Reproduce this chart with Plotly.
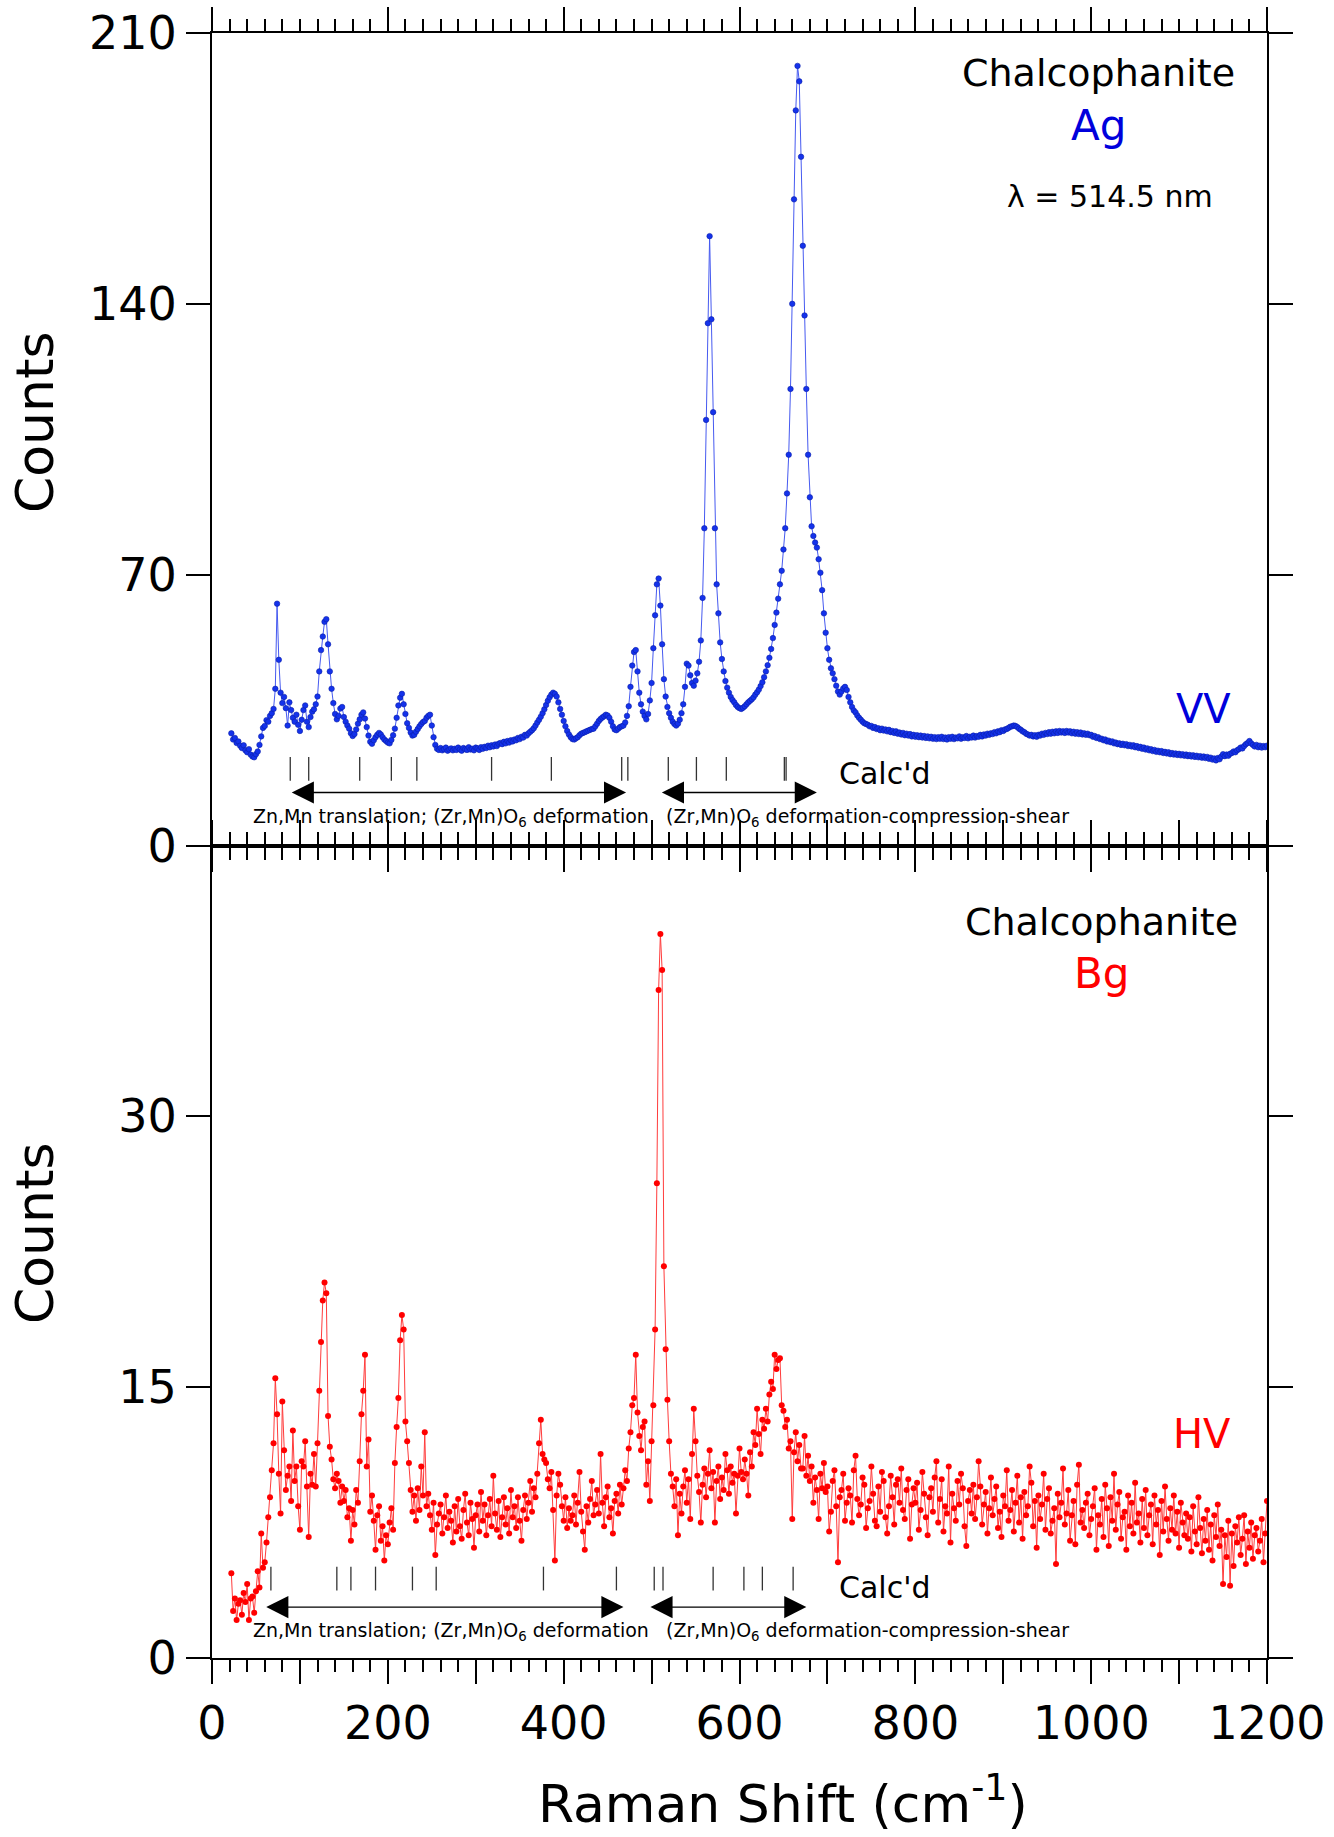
import plotly.graph_objects as go

# ---------------- data ----------------
# Raman shift grid (cm-1), 2 cm-1 sampling, 22..1200
raman_shift = list(range(22, 1201, 2))

# Ag (VV) counts, top panel, in 100 cm-1 blocks
ag_022_098 = [29.0, 27.4, 27.8, 26.5, 26.9, 25.8, 25.2, 25.9, 24.6, 24.1,
              24.9, 23.5, 23.0, 22.8, 23.6, 24.3, 26.0, 28.2, 30.4, 30.9,
              32.4, 32.0, 33.5, 34.2, 35.3, 40.5, 62.5, 48.0, 39.5, 36.8,
              38.4, 35.5, 31.0, 37.0, 35.0, 33.0, 32.0, 33.8, 31.2]
ag_100_198 = [29.6, 32.5, 35.0, 36.2, 32.0, 30.6, 33.2, 34.6, 35.2, 36.5,
              38.5, 45.0, 50.5, 54.0, 57.8, 58.5, 52.0, 45.0, 40.5, 36.8,
              34.0, 32.6, 33.5, 35.4, 35.8, 33.2, 32.0, 31.0, 30.2, 29.0,
              28.3, 28.8, 30.0, 31.5, 32.6, 33.8, 34.4, 32.8, 30.6, 28.4,
              26.8, 26.3, 27.2, 28.0, 28.6, 29.1, 28.7, 28.0, 27.4, 27.0]
ag_200_298 = [26.6, 26.4, 27.3, 28.5, 30.2, 33.0, 36.2, 38.2, 39.2, 36.5,
              34.0, 31.6, 30.4, 29.2, 28.4, 28.6, 29.4, 30.1, 30.8, 31.4,
              31.9, 32.2, 33.0, 33.5, 33.8, 31.0, 28.0, 26.0, 25.0, 24.7,
              25.2, 24.6, 24.9, 25.3, 24.5, 24.8, 25.1, 24.6, 25.0, 24.7,
              25.3, 24.8, 24.5, 25.2, 24.9, 24.7, 25.4, 24.8, 25.0, 24.6]
ag_300_398 = [25.3, 25.1, 24.7, 25.4, 25.0, 25.5, 25.2, 25.8, 25.4, 25.9,
              25.6, 26.1, 25.7, 26.3, 26.5, 26.2, 26.8, 26.4, 27.0, 26.6,
              27.2, 26.9, 27.4, 27.2, 27.8, 27.5, 28.1, 27.9, 28.6, 28.4,
              29.0, 29.4, 29.8, 30.3, 31.0, 31.8, 32.5, 33.3, 34.2, 35.2,
              36.3, 37.4, 38.3, 39.0, 39.5, 39.2, 38.5, 37.0, 35.3, 33.8]
ag_400_498 = [32.2, 30.8, 29.6, 28.7, 28.0, 27.5, 27.4, 27.7, 28.0, 28.5,
              28.9, 29.1, 29.3, 29.5, 29.7, 29.9, 30.1, 30.2, 30.8, 31.5,
              32.2, 32.7, 33.1, 33.4, 33.8, 33.6, 33.0, 32.0, 30.8, 30.0,
              29.8, 30.2, 30.6, 30.8, 31.0, 31.8, 33.5, 36.0, 41.0, 46.5,
              50.0, 50.5, 45.0, 39.5, 36.5, 34.6, 33.5, 32.6, 34.0, 37.5]
ag_500_598 = [42.0, 51.0, 59.5, 67.5, 69.0, 62.0, 52.0, 43.0, 38.5, 35.8,
              34.2, 33.0, 32.0, 31.4, 31.0, 31.5, 32.5, 34.2, 36.5, 41.0,
              47.0, 46.5, 44.0, 42.0, 41.3, 42.6, 44.5, 47.5, 53.0, 64.0,
              82.0, 110.0, 135.0, 157.5, 136.0, 112.0, 82.0, 67.5, 60.0, 52.5,
              48.2, 45.0, 42.5, 40.8, 39.5, 38.4, 37.6, 37.0, 36.3, 35.8]
ag_600_698 = [35.5, 35.3, 35.6, 36.0, 36.5, 37.0, 37.4, 37.8, 38.3, 39.0,
              39.6, 40.3, 41.2, 42.2, 43.5, 45.0, 46.6, 48.5, 50.8, 53.6,
              57.0, 60.2, 63.8, 67.5, 71.0, 76.5, 82.0, 91.0, 101.0, 118.0,
              140.0, 167.0, 190.0, 201.5, 197.5, 178.0, 155.0, 137.0, 118.0, 101.0,
              90.0, 82.5, 80.0, 78.3, 77.0, 74.0, 70.5, 66.0, 60.0, 55.0]
ag_700_798 = [51.0, 48.0, 45.8, 44.5, 43.0, 41.3, 39.8, 39.0, 39.8, 40.6,
              41.0, 40.2, 38.4, 37.0, 35.8, 34.9, 34.4, 33.6, 33.0, 32.5,
              32.0, 31.6, 31.4, 31.2, 30.8, 30.9, 30.4, 30.6, 30.1, 30.3,
              29.8, 30.2, 29.7, 30.0, 29.5, 29.9, 29.3, 29.6, 29.1, 29.5,
              28.9, 29.2, 28.7, 29.1, 28.5, 28.9, 28.4, 28.8, 28.2, 28.6]
ag_800_898 = [28.1, 28.5, 28.0, 28.4, 27.9, 28.3, 27.8, 28.2, 27.7, 28.1,
              27.6, 28.0, 27.5, 28.0, 27.6, 28.1, 27.5, 27.9, 27.4, 28.0,
              27.6, 28.1, 27.5, 27.9, 27.7, 28.2, 27.6, 28.0, 27.8, 28.3,
              27.7, 28.1, 27.9, 28.4, 27.9, 28.3, 28.1, 28.6, 28.2, 28.7,
              28.4, 28.9, 28.6, 29.0, 28.8, 29.3, 29.0, 29.5, 29.3, 29.8]
ag_900_998 = [29.6, 30.0, 30.1, 30.4, 30.7, 30.8, 31.0, 30.9, 30.6, 30.2,
              29.9, 29.5, 29.3, 28.9, 28.7, 28.4, 28.6, 28.2, 28.5, 28.1,
              28.6, 28.4, 28.9, 28.6, 29.1, 28.8, 29.3, 28.9, 29.4, 29.0,
              29.5, 29.1, 29.6, 29.2, 29.5, 29.1, 29.6, 29.2, 29.5, 29.0,
              29.4, 28.9, 29.3, 28.8, 29.2, 28.7, 29.0, 28.6, 28.9, 28.5]
ag_1000_1098 = [28.6, 28.1, 28.3, 27.8, 28.0, 27.5, 27.6, 27.2, 27.4, 26.9,
                27.1, 26.7, 26.9, 26.4, 26.6, 26.2, 26.4, 26.0, 26.3, 25.9,
                26.2, 25.7, 26.0, 25.6, 25.9, 25.4, 25.7, 25.2, 25.5, 25.0,
                25.3, 24.8, 25.1, 24.6, 24.9, 24.4, 24.7, 24.2, 24.5, 24.1,
                24.4, 23.9, 24.2, 23.8, 24.1, 23.6, 23.9, 23.5, 23.8, 23.4]
ag_1100_1200 = [23.7, 23.3, 23.6, 23.2, 23.5, 23.1, 23.4, 23.0, 23.3, 22.9,
                23.2, 22.8, 23.1, 22.7, 23.0, 22.6, 22.9, 22.4, 22.7, 22.2,
                22.5, 22.0, 22.6, 22.3, 23.0, 23.6, 23.1, 23.5, 23.2, 23.7,
                23.9, 24.3, 24.1, 24.6, 24.9, 25.3, 25.1, 25.7, 26.2, 26.5,
                27.0, 26.4, 26.0, 25.6, 26.0, 25.4, 25.8, 25.3, 25.7, 25.4,
                25.8]

# Bg (HV) counts, bottom panel
bg_022_098 = [4.7, 2.6, 3.3, 2.1, 3.0, 3.2, 2.4, 3.6, 3.1, 4.1,
              2.1, 3.3, 3.4, 2.5, 3.7, 4.8, 3.9, 6.9, 5.0, 5.3,
              6.4, 7.8, 8.9, 10.4, 11.9, 15.5, 13.5, 10.2, 8.0, 14.2,
              11.5, 9.3, 10.1, 10.6, 8.7, 12.6, 9.8, 10.6, 8.4]
bg_100_198 = [7.1, 10.9, 10.6, 12.0, 9.5, 6.7, 10.2, 9.6, 11.3, 9.5,
              11.9, 14.8, 17.5, 19.8, 20.8, 20.2, 13.4, 11.7, 11.0, 9.9,
              9.4, 10.2, 9.8, 8.6, 9.5, 8.7, 9.3, 7.8, 8.3, 6.5,
              8.2, 7.4, 9.3, 8.6, 10.9, 13.5, 14.8, 16.8, 10.6, 12.1,
              8.1, 9.0, 7.6, 6.0, 7.9, 8.4, 6.5, 7.3, 5.4, 6.8]
bg_200_298 = [6.3, 7.5, 8.3, 7.1, 10.8, 12.8, 14.4, 17.6, 19.0, 18.2,
              13.1, 12.0, 10.8, 9.3, 8.1, 9.0, 7.6, 9.4, 8.2, 10.6,
              9.0, 12.5, 8.4, 9.1, 7.9, 7.1, 8.6, 5.7, 7.4, 8.0,
              8.5, 6.9, 7.8, 9.0, 7.2, 8.1, 7.6, 6.4, 8.4, 7.0,
              8.8, 7.3, 6.6, 8.2, 9.1, 7.5, 6.8, 8.6, 7.7, 6.1]
bg_300_398 = [7.9, 8.5, 7.0, 9.2, 7.6, 8.5, 6.8, 7.9, 8.8, 7.3,
              10.1, 8.0, 7.1, 8.7, 6.7, 7.8, 8.9, 7.4, 8.3, 6.9,
              9.3, 7.8, 8.4, 7.2, 8.9, 7.6, 6.5, 8.2, 9.0, 7.7,
              8.6, 9.8, 8.1, 9.4, 8.9, 10.2, 11.9, 13.2, 11.3, 11.0,
              10.8, 9.9, 9.4, 10.3, 8.2, 5.4, 9.0, 10.2, 9.6, 8.4]
bg_400_498 = [7.6, 8.9, 7.2, 8.3, 7.6, 7.9, 9.0, 7.4, 8.6, 10.3,
              8.1, 7.0, 6.0, 8.4, 7.5, 8.8, 9.8, 7.9, 8.5, 9.3,
              8.0, 11.3, 8.6, 7.3, 8.9, 9.5, 7.8, 8.3, 6.9, 8.7,
              9.1, 8.0, 9.6, 8.5, 9.4, 10.4, 9.8, 11.6, 12.5, 14.0,
              14.4, 16.8, 13.6, 12.3, 11.5, 12.8, 13.1, 9.6, 10.9, 8.7]
bg_500_598 = [12.0, 14.0, 18.2, 26.3, 37.0, 40.1, 38.1, 21.7, 17.1, 14.3,
              12.0, 10.2, 9.5, 8.4, 9.9, 6.8, 9.1, 8.0, 9.5, 10.4,
              8.6, 9.9, 7.7, 11.3, 13.8, 12.0, 10.1, 9.2, 7.5, 9.6,
              10.5, 8.9, 10.2, 11.5, 9.4, 10.3, 7.5, 9.8, 10.6, 8.8,
              10.0, 9.3, 11.3, 10.4, 9.1, 10.6, 9.7, 10.2, 8.0, 10.1]
bg_600_698 = [11.6, 10.3, 9.9, 11.0, 10.2, 9.0, 11.4, 10.6, 12.5, 11.8,
              13.8, 12.4, 11.3, 13.2, 12.7, 13.8, 13.1, 14.6, 15.3, 14.9,
              16.8, 16.0, 16.5, 16.6, 14.0, 13.7, 12.8, 13.2, 11.6, 12.0,
              7.7, 11.4, 12.5, 10.9, 11.8, 10.5, 10.5, 12.3, 10.1, 11.2,
              9.8, 10.6, 8.6, 10.0, 9.3, 7.7, 10.2, 9.4, 10.8, 9.2]
bg_700_798 = [9.5, 7.0, 8.1, 9.8, 10.4, 8.4, 5.3, 8.9, 9.3, 10.2,
              7.6, 8.6, 9.4, 9.0, 7.5, 10.4, 11.2, 8.8, 7.9, 8.5,
              10.0, 9.6, 7.2, 8.3, 8.7, 10.6, 9.1, 7.6, 7.3, 9.5,
              8.1, 10.3, 9.8, 7.8, 6.9, 8.4, 10.1, 8.9, 7.4, 9.6,
              9.9, 8.6, 10.5, 8.2, 7.7, 9.3, 9.9, 6.6, 8.5, 9.4]
bg_800_898 = [8.6, 9.7, 7.1, 8.2, 10.3, 9.1, 7.8, 6.8, 8.9, 9.4,
              8.1, 10.0, 10.9, 7.5, 8.8, 9.9, 7.0, 8.4, 8.0, 10.6,
              6.4, 9.1, 8.3, 7.6, 9.8, 8.5, 10.2, 9.4, 7.3, 6.2,
              8.7, 9.3, 8.0, 9.6, 7.7, 8.9, 10.9, 9.5, 7.4, 8.5,
              9.2, 6.9, 8.3, 10.0, 7.9, 8.8, 9.5, 7.2, 8.1, 6.7]
bg_900_998 = [9.0, 8.4, 10.4, 7.6, 8.2, 9.3, 7.0, 8.6, 10.1, 7.5,
              8.9, 6.6, 9.2, 7.9, 8.4, 10.6, 9.7, 7.3, 8.7, 6.1,
              9.0, 7.7, 8.5, 10.2, 7.1, 8.8, 9.4, 6.9, 7.6, 8.3,
              5.2, 9.1, 7.8, 8.6, 10.5, 7.4, 8.0, 9.3, 6.5, 7.9,
              8.7, 6.3, 9.6, 10.7, 7.5, 8.2, 7.2, 8.6, 9.1, 6.8]
bg_1000_1098 = [7.7, 8.4, 9.4, 6.0, 7.9, 7.4, 8.8, 6.7, 9.6, 8.3,
                6.2, 8.9, 7.6, 10.2, 7.1, 8.5, 9.2, 6.6, 7.8, 8.1,
                6.0, 9.0, 7.3, 8.6, 6.9, 9.7, 7.5, 8.0, 6.4, 8.8,
                7.2, 9.3, 6.8, 7.9, 8.5, 6.3, 9.0, 7.4, 8.2, 5.7,
                8.7, 7.0, 9.5, 7.7, 6.5, 8.3, 7.1, 9.0, 6.9, 8.1]
bg_1100_1200 = [6.1, 8.6, 7.5, 6.8, 8.0, 6.6, 7.8, 5.9, 8.4, 7.0,
                6.3, 8.9, 7.2, 5.8, 7.7, 6.5, 8.2, 6.0, 7.4, 5.4,
                7.9, 6.7, 8.5, 6.2, 7.1, 4.1, 6.8, 5.6, 7.6, 4.0,
                6.9, 5.1, 7.3, 6.4, 7.8, 5.7, 6.6, 7.9, 5.2, 7.0,
                6.1, 7.5, 5.5, 6.8, 7.2, 5.9, 6.5, 7.7, 5.3, 6.9,
                8.7]

# calculated mode positions (cm-1)
calcd_ag = [89, 110, 168, 204, 233, 318, 386, 466, 473, 519, 551, 585, 651, 653]
calcd_bg = [67, 142, 158, 186, 228, 255, 377, 460, 503, 513, 570, 605, 626, 661]

# arrow ranges (cm-1)
ag_arrows = [(89, 471), (510, 688)]
bg_arrows = [(60, 468), (497, 676)]

ag_counts = (ag_022_098 + ag_100_198 + ag_200_298 + ag_300_398 + ag_400_498 + ag_500_598
             + ag_600_698 + ag_700_798 + ag_800_898 + ag_900_998 + ag_1000_1098 + ag_1100_1200)
bg_counts = (bg_022_098 + bg_100_198 + bg_200_298 + bg_300_398 + bg_400_498 + bg_500_598
             + bg_600_698 + bg_700_798 + bg_800_898 + bg_900_998 + bg_1000_1098 + bg_1100_1200)

FONT = "DejaVu Sans"
BLUE = "rgb(20,50,235)"
RED = "rgb(255,0,0)"

fig = go.Figure()

fig.add_trace(go.Scatter(
    x=raman_shift[:len(ag_counts)], y=ag_counts, xaxis="x2", yaxis="y2", mode="lines+markers",
    line=dict(color="rgb(70,90,240)", width=1),
    marker=dict(size=5.5, color=BLUE, line=dict(width=0.6, color="rgb(10,30,170)")),
    showlegend=False))
fig.add_trace(go.Scatter(
    x=raman_shift[:len(bg_counts)], y=bg_counts, xaxis="x", yaxis="y", mode="lines+markers",
    line=dict(color="rgb(255,60,60)", width=1),
    marker=dict(size=6, color=RED),
    showlegend=False))

# calc'd tick marks
fig.add_trace(go.Scatter(
    x=calcd_ag, y=[19.8] * len(calcd_ag), xaxis="x2", yaxis="y2", mode="markers",
    marker=dict(symbol="line-ns", size=17, line=dict(width=1.3, color="#333")),
    showlegend=False, hoverinfo="skip"))
fig.add_trace(go.Scatter(
    x=calcd_bg, y=[4.4] * len(calcd_bg), xaxis="x", yaxis="y", mode="markers",
    marker=dict(symbol="line-ns", size=17, line=dict(width=1.3, color="#333")),
    showlegend=False, hoverinfo="skip"))

ann = []
# arrows
for (a, b) in ag_arrows:
    ann.append(dict(x=b, y=13.7, ax=a, ay=13.7, xref="x2", yref="y2", axref="x2", ayref="y2",
                    text="", showarrow=True, arrowhead=2, startarrowhead=2, arrowside="end+start",
                    arrowsize=3.4, startarrowsize=3.4, arrowwidth=1.3, arrowcolor="black"))
for (a, b) in bg_arrows:
    ann.append(dict(x=b, y=2.82, ax=a, ay=2.82, xref="x", yref="y", axref="x", ayref="y",
                    text="", showarrow=True, arrowhead=2, startarrowhead=2, arrowside="end+start",
                    arrowsize=3.4, startarrowsize=3.4, arrowwidth=1.3, arrowcolor="black"))

lab1 = "Zn,Mn translation; (Zr,Mn)O<sub>6</sub> deformation"
lab2 = "(Zr,Mn)O<sub>6</sub> deformation-compression-shear"
ann.append(dict(x=271.3, y=7.2, xref="x2", yref="y2", text=lab1, showarrow=False,
                font=dict(family=FONT, size=19, color="black")))
ann.append(dict(x=745.6, y=7.2, xref="x2", yref="y2", text=lab2, showarrow=False,
                font=dict(family=FONT, size=19, color="black")))
ann.append(dict(x=271.3, y=1.45, xref="x", yref="y", text=lab1, showarrow=False,
                font=dict(family=FONT, size=19, color="black")))
ann.append(dict(x=745.6, y=1.45, xref="x", yref="y", text=lab2, showarrow=False,
                font=dict(family=FONT, size=19, color="black")))


def px2paper(px, py):
    return (px - 212) / 1055.0, (1658 - py) / 1625.0


def add_text(text, px, py, size, color="black", angle=0):
    x, y = px2paper(px, py)
    ann.append(dict(x=x, y=y, xref="paper", yref="paper", text=text, showarrow=False,
                    xanchor="center", yanchor="middle", textangle=angle,
                    font=dict(family=FONT, size=size, color=color)))


add_text("Chalcophanite", 1098, 73, 38)
add_text("Ag", 1098, 125, 42, "rgb(0,0,220)")
add_text("λ = 514.5 nm", 1110, 197, 30)
add_text("VV", 1203, 709, 40, "rgb(0,0,220)")
add_text("Calc'd", 884, 773, 30)
add_text("Chalcophanite", 1101, 922, 38)
add_text("Bg", 1101, 973, 42, "rgb(255,0,0)")
add_text("HV", 1202, 1434, 40, "rgb(255,0,0)")
add_text("Calc'd", 884, 1587, 30)
add_text("Counts", 35, 422, 52, angle=-90)
add_text("Counts", 35, 1233, 52, angle=-90)
add_text("Raman Shift (cm<sup>-1</sup>)", 783, 1800, 52)

xt_vals = list(range(0, 1201, 100))
xt_text = [str(v) if v % 200 == 0 else "" for v in xt_vals]

common_x = dict(range=[0, 1200], showline=True, linewidth=2, linecolor="black", mirror="ticks",
                ticks="outside", ticklen=24, tickwidth=1.5, tickcolor="black",
                tickvals=xt_vals, ticktext=xt_text, showgrid=False, zeroline=False,
                automargin=False,
                minor=dict(dtick=20, tick0=0, ticks="outside", ticklen=12, tickwidth=1.5,
                           tickcolor="black", showgrid=False))
common_y = dict(showline=True, linewidth=2, linecolor="black", mirror="ticks",
                ticks="outside", ticklen=24, tickwidth=1.5, tickcolor="black",
                showgrid=False, zeroline=False, automargin=False,
                tickfont=dict(family=FONT, size=46, color="black"))

fig.update_layout(
    width=1334, height=1837,
    margin=dict(l=212, r=67, t=33, b=179, pad=0, autoexpand=False),
    paper_bgcolor="white", plot_bgcolor="white",
    xaxis=dict(domain=[0, 1], anchor="y", tickfont=dict(family=FONT, size=46, color="black"), **common_x),
    xaxis2=dict(domain=[0, 1], anchor="y2", matches="x", showticklabels=False, **common_x),
    yaxis=dict(domain=[0, 0.5], anchor="x", range=[0, 45], tickvals=[0, 15, 30, 45],
               ticktext=["0", "15", "30", ""], **common_y),
    yaxis2=dict(domain=[0.5, 1], anchor="x2", range=[0, 210], tickvals=[0, 70, 140, 210], **common_y),
    annotations=ann,
    font=dict(family=FONT, color="black"),
)

fig.write_html("out.html")
